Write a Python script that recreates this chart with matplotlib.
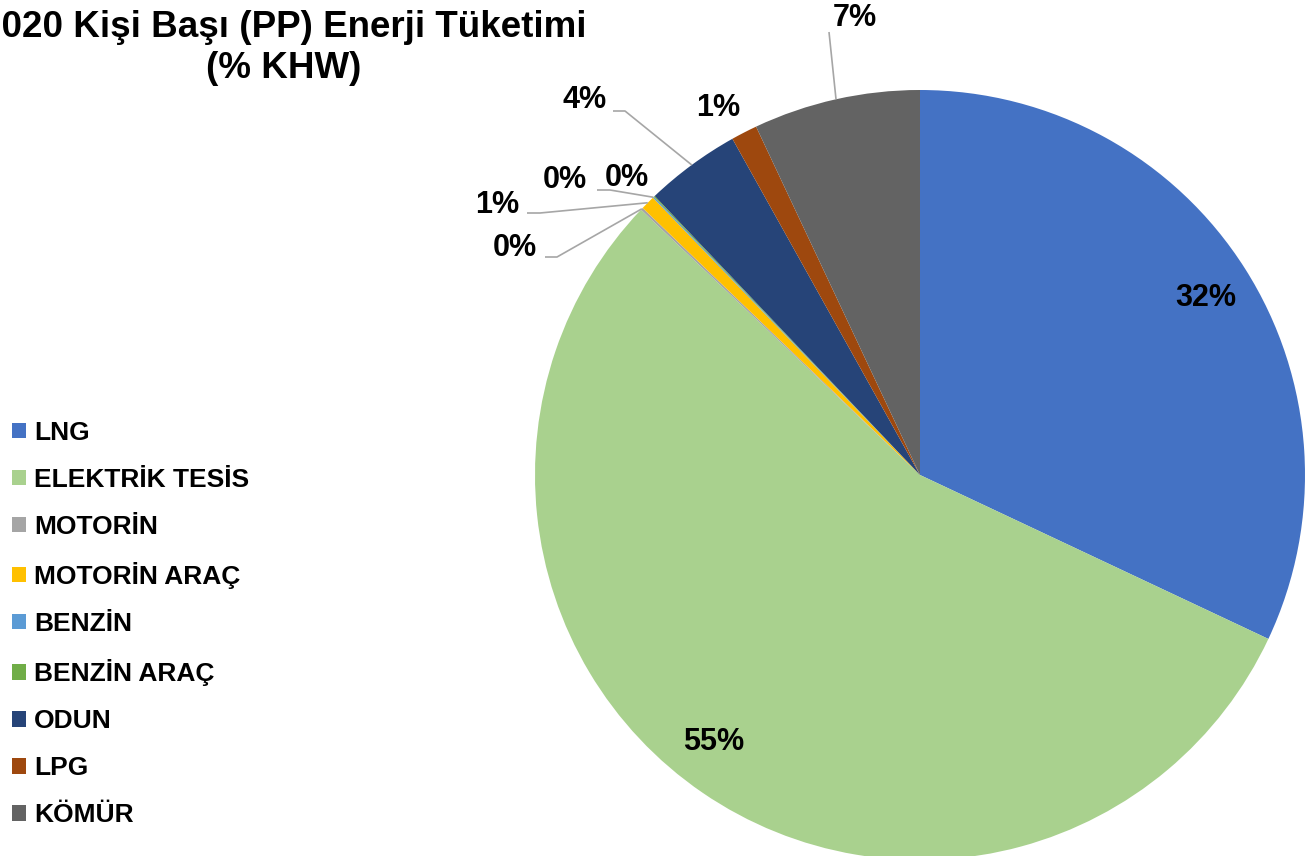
import numpy as np
import matplotlib.pyplot as plt

plt.rcParams['font.family'] = ['Liberation Sans', 'DejaVu Sans']

# ---------------------------
# Data
# ---------------------------

categories = ["LNG", "ELEKTRİK TESİS", "MOTORİN", "MOTORİN ARAÇ", "BENZİN",
              "BENZİN ARAÇ", "ODUN", "LPG", "KÖMÜR"]
shares = [32.0, 55.1, 0.1, 0.6, 0.05, 0.05, 4.0, 1.1, 7.0]
colors = ["#4472C4", "#A9D18E", "#A5A5A5", "#FFC000", "#5B9BD5",
          "#70AD47", "#264478", "#9E480E", "#636363"]

title = "2020 Kişi Başı (PP) Enerji Tüketimi\n(% KHW)"

# ---------------------------
# Layout (pixel space, y down)
# ---------------------------

W, H = 1305, 856
center = (920, 475)
radius = 385

label_pos = [(1206, 298), (714, 742), (515, 248), (497, 205), (565, 180),
             (627, 178), (585, 100), (718, 108), (855, 18)]
# leader lines: (start, elbow) per slice, None = no leader
leaders = [None, None,
           ((545, 257), (557, 257)),
           ((527, 213), (540, 213)),
           ((597, 190), (610, 190)),
           None,
           ((613, 111), (625, 111)),
           None,
           ((829, 32), (829, 32))]

fig = plt.figure(figsize=(W / 100, H / 100), dpi=100)
ax = fig.add_axes([0, 0, 1, 1])

# y axis inverted, so counterclock in data runs clockwise on screen
wedges, _ = ax.pie(shares, colors=colors, startangle=-90, counterclock=True,
                   radius=radius, center=center, frame=True,
                   wedgeprops=dict(linewidth=0))
ax.set_xlim(0, W)
ax.set_ylim(H, 0)
ax.set_aspect('equal')
ax.axis('off')

total = sum(shares)
for i, (w, v) in enumerate(zip(wedges, shares)):
    lx, ly = label_pos[i]
    ax.text(lx, ly, f"{v / total * 100:.0f}%", ha='center', va='center',
            fontsize=22, fontweight='bold', color='black')
    if leaders[i] is not None:
        mid = np.deg2rad((w.theta1 + w.theta2) / 2)
        ex = center[0] + radius * np.cos(mid)
        ey = center[1] + radius * np.sin(mid)
        (sx, sy), (bx, by) = leaders[i]
        ax.plot([sx, bx, ex], [sy, by, ey], color="#A6A6A6", lw=1.2,
                solid_capstyle='butt')

ax.text(284, 48, title, ha='center', va='center', fontsize=26.5,
        fontweight='bold', linespacing=1.22, multialignment='center')

leg = ax.legend(wedges, categories, loc='center left',
                bbox_to_anchor=(12 / W, 1 - 624 / H), frameon=False,
                handlelength=0.53, handleheight=0.53,
                handletextpad=0.3, labelspacing=0.875, borderpad=0,
                borderaxespad=0, prop=dict(weight='bold', size=19))

fig.savefig("out.png", dpi=100)
